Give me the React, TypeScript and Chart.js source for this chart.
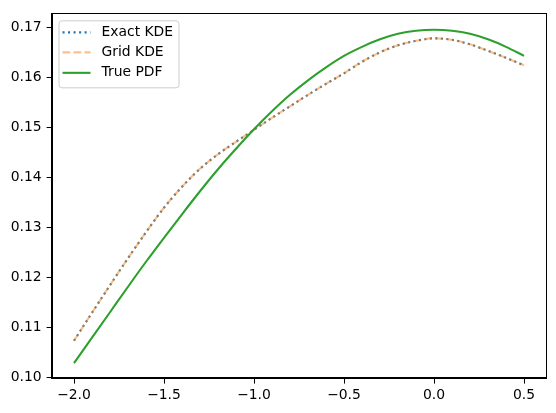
import React, { useEffect, useRef } from "react";
import { Chart, registerables } from "chart.js";

Chart.register(...registerables);

// Evaluation grid
const xs = [
  -2.0, -1.9, -1.8, -1.7, -1.6, -1.5, -1.4, -1.3, -1.2, -1.1, -1.0, -0.9, -0.8,
  -0.7, -0.6, -0.5, -0.4, -0.3, -0.2, -0.1, 0.0, 0.1, 0.2, 0.3, 0.4, 0.5,
];

const exactKde = [
  0.1074, 0.113, 0.1185, 0.1239, 0.1291, 0.134, 0.1382, 0.1418, 0.1447,
  0.1472, 0.1496, 0.152, 0.1543, 0.1566, 0.1588, 0.1609, 0.1632, 0.1651,
  0.1665, 0.1674, 0.1679, 0.1676, 0.1667, 0.1654, 0.164, 0.1625,
];

const gridKde = [
  0.1074, 0.113, 0.1185, 0.1239, 0.1291, 0.134, 0.1382, 0.1418, 0.1447,
  0.1472, 0.1496, 0.152, 0.1543, 0.1566, 0.1588, 0.1609, 0.1632, 0.1651,
  0.1665, 0.1674, 0.1679, 0.1676, 0.1667, 0.1654, 0.164, 0.1625,
];

const truePdf = [
  0.1029, 0.108, 0.1131, 0.1182, 0.1232, 0.128, 0.1327, 0.1373, 0.1417,
  0.1458, 0.1497, 0.1533, 0.1566, 0.1595, 0.1621, 0.1644, 0.1662, 0.1677,
  0.1688, 0.1694, 0.1696, 0.1694, 0.1688, 0.1677, 0.1662, 0.1644,
];

const xTicks = [-2.0, -1.5, -1.0, -0.5, 0.0, 0.5];
const yTicks = [0.1, 0.11, 0.12, 0.13, 0.14, 0.15, 0.16, 0.17];

const FONT = "'DejaVu Sans', sans-serif";
const FONT_SIZE = 13.9;

const toPoints = (ys: number[]) => xs.map((x, i) => ({ x, y: ys[i] }));

// Frame around the plotting area (top and right spines)
const framePlugin = {
  id: "frame",
  afterDraw(chart: any) {
    const { ctx, chartArea: a } = chart;
    ctx.save();
    ctx.strokeStyle = "#000";
    ctx.lineWidth = 1;
    ctx.strokeRect(
      Math.round(a.left) + 0.5,
      Math.round(a.top) + 0.5,
      Math.round(a.right - a.left) - 1,
      Math.round(a.bottom - a.top) - 1
    );
    ctx.restore();
  },
};

// Boxed legend in the upper-left corner of the plot
const boxLegendPlugin = {
  id: "boxLegend",
  afterDraw(chart: any) {
    const { ctx, chartArea: a } = chart;
    const x0 = a.left + 7;
    const y0 = a.top + 7;
    const w = 120;
    const h = 67;
    ctx.save();
    ctx.beginPath();
    ctx.roundRect(x0 + 0.5, y0 + 0.5, w, h, 3);
    ctx.fillStyle = "rgba(255,255,255,0.8)";
    ctx.fill();
    ctx.strokeStyle = "#cccccc";
    ctx.lineWidth = 1;
    ctx.stroke();
    ctx.font = `${FONT_SIZE}px ${FONT}`;
    ctx.textBaseline = "middle";
    const rowsY = [29.5, 49.5, 70];
    chart.data.datasets.forEach((ds: any, i: number) => {
      const y = a.top - 10.5 + rowsY[i];
      ctx.beginPath();
      ctx.setLineDash(ds.borderDash || []);
      ctx.lineCap = "butt";
      ctx.strokeStyle = ds.borderColor;
      ctx.lineWidth = ds.borderWidth;
      ctx.moveTo(x0 + 4, y);
      ctx.lineTo(x0 + 32, y);
      ctx.stroke();
      ctx.setLineDash([]);
      ctx.fillStyle = "#000";
      ctx.fillText(ds.label, x0 + 43, y);
    });
    ctx.restore();
  },
};

export default function App() {
  const ref = useRef<HTMLCanvasElement>(null);

  useEffect(() => {
    if (!ref.current) return;
    Chart.defaults.font.family = FONT;
    const chart = new Chart(ref.current, {
      type: "line",
      data: {
        datasets: [
          {
            label: "Exact KDE",
            data: toPoints(exactKde),
            borderColor: "#1f77b4",
            borderWidth: 2.08,
            borderDash: [2.08, 3.44],
            pointRadius: 0,
            cubicInterpolationMode: "monotone",
            fill: false,
            order: 2,
          },
          {
            label: "Grid KDE",
            data: toPoints(gridKde),
            borderColor: "rgba(255,127,14,0.5)",
            borderWidth: 2.08,
            borderDash: [7.7, 3.33],
            pointRadius: 0,
            cubicInterpolationMode: "monotone",
            fill: false,
            order: 1,
          },
          {
            label: "True PDF",
            data: toPoints(truePdf),
            borderColor: "#2ca02c",
            borderWidth: 2.08,
            pointRadius: 0,
            cubicInterpolationMode: "monotone",
            fill: false,
            order: 0,
          },
        ],
      },
      options: {
        responsive: false,
        animation: false,
        devicePixelRatio: 1,
        layout: { padding: { left: 0, right: 9.5, top: 10.5, bottom: 0 } },
        plugins: {
          legend: { display: false },
          tooltip: { enabled: false },
        },
        scales: {
          x: {
            type: "linear",
            min: -2.125,
            max: 0.625,
            afterBuildTicks: (s: any) => {
              s.ticks = xTicks.map((v) => ({ value: v }));
            },
            afterFit: (s: any) => {
              s.height = 34.3;
            },
            ticks: {
              color: "#000",
              font: { size: FONT_SIZE, family: FONT },
              padding: 3,
              maxRotation: 0,
              autoSkip: false,
              callback: (v: any) => Number(v).toFixed(1).replace("-", "\u2212"),
            },
            grid: {
              drawOnChartArea: false,
              drawTicks: true,
              tickLength: 4.9,
              color: "#000",
            },
            border: { display: true, color: "#000", width: 1 },
          },
          y: {
            type: "linear",
            min: 0.0998,
            max: 0.1729,
            afterBuildTicks: (s: any) => {
              s.ticks = yTicks.map((v) => ({ value: v }));
            },
            afterFit: (s: any) => {
              s.width = 51.5;
            },
            ticks: {
              color: "#000",
              font: { size: FONT_SIZE, family: FONT },
              padding: 5,
              autoSkip: false,
              callback: (v: any) => Number(v).toFixed(2),
            },
            grid: {
              drawOnChartArea: false,
              drawTicks: true,
              tickLength: 4.9,
              color: "#000",
            },
            border: { display: true, color: "#000", width: 1 },
          },
        },
      },
      plugins: [framePlugin, boxLegendPlugin],
    });
    return () => chart.destroy();
  }, []);

  return (
    <div
      style={{
        position: "fixed",
        left: 0,
        top: 0,
        width: 556,
        height: 413,
        background: "#fff",
      }}
    >
      <canvas ref={ref} width={556} height={413} />
    </div>
  );
}
